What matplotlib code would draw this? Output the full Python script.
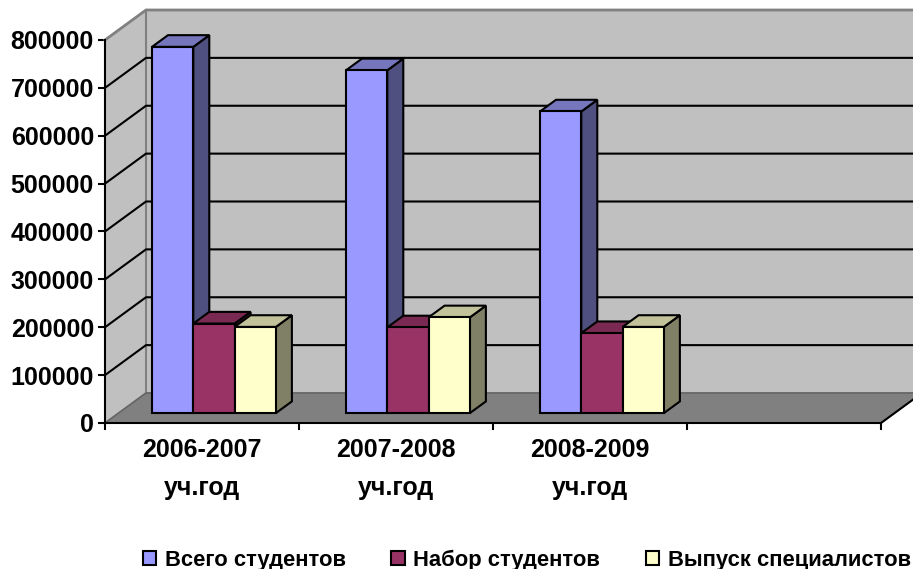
import matplotlib

matplotlib.use("Agg")
import matplotlib.pyplot as plt
from matplotlib.patches import Patch

plt.rcParams["font.family"] = ["Liberation Sans", "DejaVu Sans"]
plt.rcParams["font.weight"] = "bold"

years = ["2006-2007\nуч.год", "2007-2008\nуч.год", "2008-2009\nуч.год"]
series_names = ["Всего студентов", "Набор студентов", "Выпуск специалистов"]
total_students = [765000, 716000, 630000]
enrolled = [187000, 179000, 167000]
graduated = [180000, 200000, 180000]
yticks = [0, 100000, 200000, 300000, 400000, 500000, 600000, 700000, 800000]

front_colors = ["#9999FF", "#993366", "#FFFFCC"]
top_colors = ["#7676BD", "#7A2A52", "#C2C29B"]
side_colors = ["#4F4F80", "#4D1A33", "#808066"]

# box depth in data units: 41 px across, 30 px up
DEPTH_X = 41 / 194
DEPTH_Y = 30 / 383 * 800000
BAR_W = 41.3 / 194
BAR_START = 47 / 194
BAR_DEPTH = 0.39
BAR_FRONT = 0.33
N_CATS = 4
LW = 1.5

fig = plt.figure(figsize=(9.13, 5.69), dpi=100)
fig.patch.set_facecolor("#FFFFFF")
ax = fig.add_axes([105 / 913, 1 - 423 / 569, 776 / 913, 383 / 569])
ax.set_xlim(0, N_CATS)
ax.set_ylim(0, 800000)
ax.patch.set_alpha(0)

# walls and floor
top = yticks[-1]
ax.fill([DEPTH_X, N_CATS + DEPTH_X, N_CATS + DEPTH_X, DEPTH_X],
        [DEPTH_Y, DEPTH_Y, top + DEPTH_Y, top + DEPTH_Y],
        color="#C0C0C0", clip_on=False, zorder=1)
ax.fill([0, DEPTH_X, DEPTH_X, 0], [0, DEPTH_Y, top + DEPTH_Y, top],
        color="#C0C0C0", clip_on=False, zorder=1)
ax.fill([0, N_CATS, N_CATS + DEPTH_X, DEPTH_X], [0, 0, DEPTH_Y, DEPTH_Y],
        color="#808080", clip_on=False, zorder=1)
ax.plot([0, DEPTH_X, N_CATS + DEPTH_X], [top, top + DEPTH_Y, top + DEPTH_Y],
        color="#808080", lw=2, clip_on=False, zorder=2)
ax.plot([DEPTH_X, DEPTH_X], [DEPTH_Y, top + DEPTH_Y], color="#808080", lw=1.5, zorder=2, clip_on=False)
ax.plot([0, DEPTH_X, N_CATS + DEPTH_X], [0, DEPTH_Y, DEPTH_Y], color="#666666", lw=1.2, zorder=2, clip_on=False)
ax.plot([N_CATS, N_CATS + DEPTH_X], [0, DEPTH_Y], color="black", lw=LW, zorder=2, clip_on=False)

# gridlines run up the side wall then along the back
for v in yticks[1:-1]:
    ax.plot([0, DEPTH_X, N_CATS + DEPTH_X], [v, v + DEPTH_Y, v + DEPTH_Y],
            color="black", lw=LW, clip_on=False, zorder=3)

z = 10
for j, values in enumerate([total_students, enrolled, graduated]):
    for i, v in enumerate(values):
        x0 = i + BAR_START + j * BAR_W
        x1 = x0 + BAR_W
        y0 = DEPTH_Y * BAR_FRONT
        y1 = y0 + v
        dx = DEPTH_X * BAR_DEPTH
        dy = DEPTH_Y * BAR_DEPTH
        ax.fill([x1, x1 + dx, x1 + dx, x1], [y0, y0 + dy, y1 + dy, y1],
                facecolor=side_colors[j], edgecolor="black", lw=LW, zorder=z, clip_on=False)
        ax.fill([x0, x1, x1 + dx, x0 + dx], [y1, y1, y1 + dy, y1 + dy],
                facecolor=top_colors[j], edgecolor="black", lw=LW, zorder=z, clip_on=False)
        ax.bar(x0, v, BAR_W, bottom=y0, align="edge", color=front_colors[j],
               edgecolor="black", linewidth=LW, zorder=z + 1, clip_on=False)
    z += 2

for side in ["top", "right"]:
    ax.spines[side].set_visible(False)
for side in ["left", "bottom"]:
    ax.spines[side].set_linewidth(LW)
    ax.spines[side].set_zorder(30)

ax.set_yticks(yticks)
ax.set_xticks(range(N_CATS + 1))
ax.set_xticklabels([])
ax.set_xticks([i + 0.5 for i in range(len(years))], labels=years, minor=True)
ax.tick_params(axis="y", length=5, width=LW, labelsize=18, pad=3)
ax.tick_params(axis="x", which="major", length=5, width=LW)
ax.tick_params(axis="x", which="minor", length=0, pad=11)
for label in ax.get_xticklabels(minor=True):
    label.set_linespacing(1.72)
    label.set_fontsize(18)

handles = [Patch(facecolor=c, edgecolor="black", linewidth=LW) for c in front_colors]
fig.legend(handles, series_names, loc="center left", bbox_to_anchor=(143 / 913, 1 - 560 / 569),
           ncol=3, frameon=False, fontsize=15.8, handlelength=0.6, handleheight=0.6,
           handletextpad=0.4, columnspacing=2.07, borderpad=0, borderaxespad=0)

fig.savefig("out.png", dpi=100)
